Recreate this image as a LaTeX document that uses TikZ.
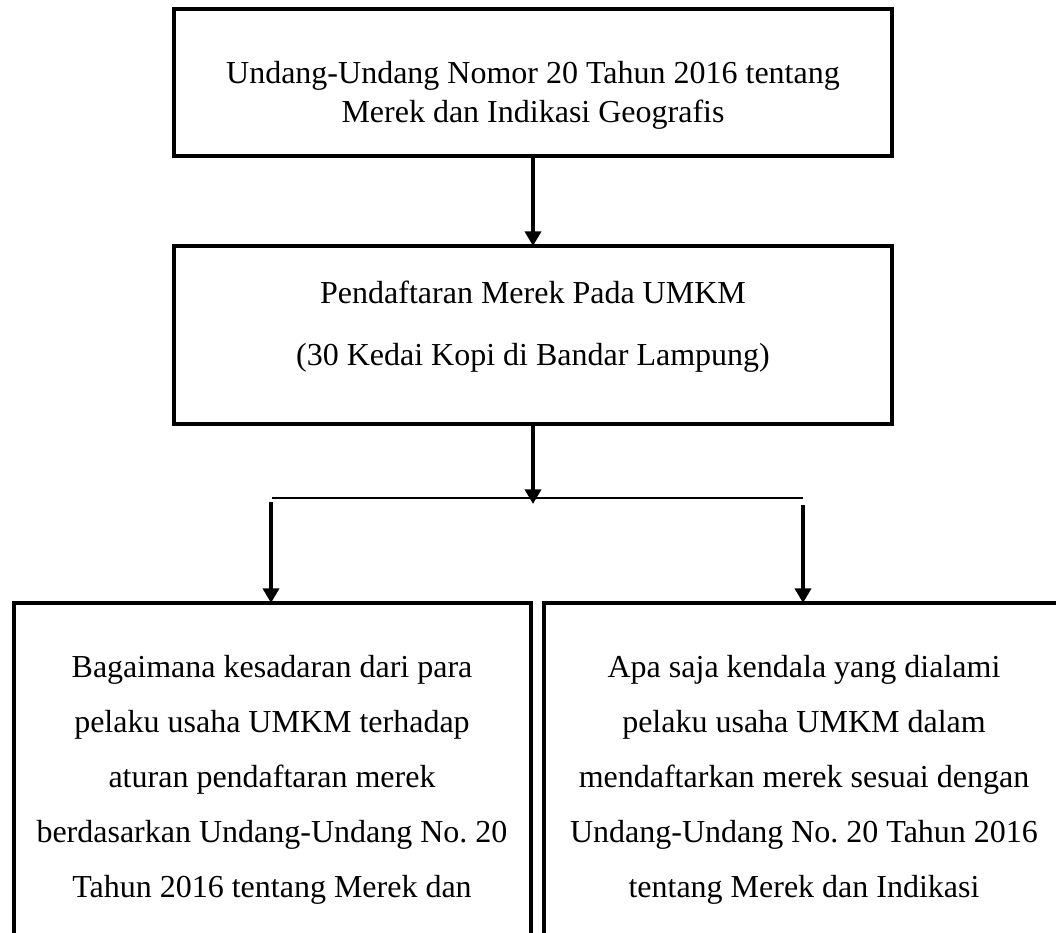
\documentclass[tikz,border=0pt]{standalone}
\usepackage{fontspec}
\setmainfont{Liberation Serif}
\usetikzlibrary{arrows.meta}
\begin{document}
\frenchspacing
\begin{tikzpicture}[x=0.75pt,y=-0.75pt,
  boxnode/.style={draw=black, line width=2.5pt, inner sep=0pt, outer sep=0pt, rectangle},
  txt/.style={anchor=base, inner sep=0pt, font=\fontsize{24}{29}\selectfont},
  arr/.style={line width=2.75pt, -{Triangle[width=12pt,length=11pt]}},
  joinline/.style={line width=1pt}]
\useasboundingbox (0,0) rectangle (1056,932);
\fill[white] (0,0) rectangle (1056,932);
\clip (0,0) rectangle (1056,932);

% boxes
\node[boxnode, minimum width=538.5pt, minimum height=110.25pt] (top) at (533,82.5) {};
\node[boxnode, minimum width=538.5pt, minimum height=133.5pt] (mid) at (533,335) {};
\node[boxnode, minimum width=387.75pt, minimum height=297.75pt] (bl) at (272.5,801.5) {};
\node[boxnode, minimum width=390pt, minimum height=297.75pt] (br) at (804,801.5) {};

% texts
\node[txt] (t1) at (533,83) {Undang-Undang Nomor 20 Tahun 2016 tentang};
\node[txt] (t2) at (533,122) {Merek dan Indikasi Geografis};
\node[txt] (m1) at (533,303) {Pendaftaran Merek Pada UMKM};
\node[txt] (m2) at (533,365) {(30 Kedai Kopi di Bandar Lampung)};

\node[txt] (l1) at (272,677) {Bagaimana kesadaran dari para};
\node[txt] (l2) at (272,732) {pelaku usaha UMKM terhadap};
\node[txt] (l3) at (272,787) {aturan pendaftaran merek};
\node[txt] (l4) at (272,842) {berdasarkan Undang-Undang No.\ 20};
\node[txt] (l5) at (272,897) {Tahun 2016 tentang Merek dan};

\node[txt] (r1) at (804,677) {Apa saja kendala yang dialami};
\node[txt] (r2) at (804,732) {pelaku usaha UMKM dalam};
\node[txt] (r3) at (804,787) {mendaftarkan merek sesuai dengan};
\node[txt] (r4) at (804,842) {Undang-Undang No.\ 20 Tahun 2016};
\node[txt] (r5) at (804,897) {tentang Merek dan Indikasi};

% connectors
\coordinate (jt) at (533,504);
\coordinate (hl) at (272,498);
\coordinate (hr) at (803,498);
\coordinate (la) at (271,502);
\coordinate (ra) at (803,505);

\draw[arr] (top.south) -- (mid.north);
\draw[arr] (mid.south) -- (jt);
\draw[joinline] (hl) -- (hr);
\draw[arr] (la) -- (la |- bl.north);
\draw[arr] (ra) -- (ra |- br.north);
\end{tikzpicture}
\end{document}
